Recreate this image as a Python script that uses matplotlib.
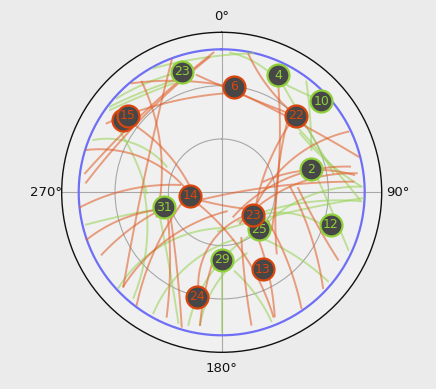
import numpy as np
import matplotlib.pyplot as plt

# nodes: label, angle (deg, clockwise from top), radius, group
node_labels = ["23", "4", "6", "10", "22", "", "15", "2", "14", "31", "25", "23", "12", "29", "13", "24"]
node_theta = [341.8, 25.7, 6.8, 47.6, 44.2, 306.3, 309.1, 75.4, 263.3, 255.7, 134.2, 125.6, 106.6, 180.0, 152.0, 193.1]
node_r = [380, 390, 319, 404, 320, 366, 363, 277, 95, 179, 158, 117, 342, 202, 262, 321]
node_group = ["g", "g", "r", "g", "r", "r", "r", "g", "r", "g", "g", "r", "g", "g", "r", "r"]

# links: start, middle and end point (x, y) of each arc
red_links = [
    (-25, 419, -225, 247, -410, 57),
    (-37, 405, -235, 227, -407, 29),
    (-270, 327, -115, 334, 35, 315),
    (45, 302, 225, 212, 410, 107),
    (80, 415, 135, 322, 215, 237),
    (205, 207, 145, 97, 100, -53),
    (195, 205, 165, 17, 165, -183),
    (170, 317, 173, 107, 150, -113),
    (380, 182, 235, 117, 85, -83),
    (397, 52, 275, 67, 125, 32),
    (-65, -23, 155, 17, 395, 32),
    (-425, -45, -285, 7, -125, 22),
    (-405, -142, -305, -83, -195, -53),
    (-360, -187, -265, -103, -165, -43),
    (-295, -282, -165, -143, 15, -57),
    (-255, -338, -205, -183, -120, -33),
    (-165, -373, -155, -193, -165, -43),
    (-120, -403, -135, -223, -155, -63),
    (-70, -293, -25, -143, 90, -63),
    (-65, -398, -55, -323, -25, -203),
    (-85, -23, 35, -143, 155, -373),
    (-75, -21, 25, -43, 105, -53),
    (35, -73, 185, 37, 385, 77),
    (55, -93, 205, 17, 405, 57),
    (229, 13, 309, -137, 349, -202),
    (-255, 197, -155, 107, -95, 17),
    (-405, 127, -245, 107, -100, 2),
    (-345, 207, -255, 242, 10, 297),
    (-240, 332, -185, 147, -195, -73),
    (-75, 352, 75, 287, 215, 232),
    (304, -287, 265, -123, 205, 17),
    (239, -347, 189, -187, 139, -87),
    (159, -372, 139, -237, 109, -137),
    (89, -397, 69, -257, 59, -137),
    (-150, 397, -225, 77, -295, -283),
]
green_links = [
    (-315, 282, -215, 332, -120, 362),
    (-335, 257, -235, 302, -105, 347),
    (-205, 372, -65, 402, 95, 417),
    (25, 419, 105, 387, 175, 327),
    (185, 327, 225, 307, 270, 287),
    (254, 332, 265, 227, 269, 127),
    (175, 337, 255, 197, 335, 57),
    (225, 197, 315, 97, 415, -23),
    (235, 177, 335, 77, 420, 17),
    (285, 47, 325, -43, 380, -173),
    (-11, -117, 235, -53, 425, -17),
    (49, -87, 235, -33, 419, -27),
    (119, -137, 259, -217, 319, -267),
    (39, -237, 109, -317, 149, -387),
    (295, -93, 205, -63, 95, -73),
    (-185, -77, -155, -237, -130, -392),
    (-235, 13, -225, -153, -265, -317),
    (-407, -97, -285, -68, -175, -48),
    (-310, -287, -185, -163, 10, -107),
    (-205, -363, -105, -223, 35, -143),
    (-100, -398, -45, -263, 95, -123),
    (135, -93, 235, -23, 415, 17),
    (-315, 197, -255, 87, -225, -3),
    (-385, 157, -265, 147, -165, 77),
    (-335, 247, -245, 287, -145, 327),
    (0, -223, 0, -323, 0, -418),
    (-65, -398, -15, -273, 75, -183),
]

edge_colors = {"g": "#8fd03a", "r": "#d8460e"}
link_colors = {"g": "#9bd35a", "r": "#e0602c"}


def arc_points(x0, y0, xm, ym, x1, y1, n=80):
    # circle through the three points
    d = 2 * (x0 * (ym - y1) + xm * (y1 - y0) + x1 * (y0 - ym))
    if abs(d) < 1e-6:
        t = np.linspace(0, 1, n)
        return x0 + (x1 - x0) * t, y0 + (y1 - y0) * t
    s0, sm, s1 = x0**2 + y0**2, xm**2 + ym**2, x1**2 + y1**2
    cx = (s0 * (ym - y1) + sm * (y1 - y0) + s1 * (y0 - ym)) / d
    cy = (s0 * (x1 - xm) + sm * (x0 - x1) + s1 * (xm - x0)) / d
    rad = np.hypot(x0 - cx, y0 - cy)
    a0 = np.arctan2(y0 - cy, x0 - cx)
    am = np.arctan2(ym - cy, xm - cx)
    a1 = np.arctan2(y1 - cy, x1 - cx)
    span = (a1 - a0) % (2 * np.pi)
    if (am - a0) % (2 * np.pi) > span:
        span = span - 2 * np.pi
    a = a0 + np.linspace(0, span, n)
    return cx + rad * np.cos(a), cy + rad * np.sin(a)


fig = plt.figure(figsize=(4.36, 3.89), dpi=100, facecolor="#ebebeb")
ax = fig.add_axes([61.7 / 436, 36.7 / 389, 320 / 436, 320 / 389], projection="polar")
ax.set_facecolor("#f0f0f0")
ax.set_theta_zero_location("N")
ax.set_theta_direction(-1)
ax.set_ylim(0, 480)
ax.set_rgrids([160, 320], labels=[])
ax.set_thetagrids([0, 90, 180, 270], labels=["0°", "90°", "180°", "270°"])
ax.tick_params(axis="x", pad=1, labelsize=9.5, colors="#111111")
ax.grid(color="#a8a8a8", linewidth=0.8)
ax.spines["polar"].set_color("#111111")
ax.spines["polar"].set_linewidth(1.0)

# plot band
band = np.linspace(0, 2 * np.pi, 400)
ax.plot(band, np.full_like(band, 429), color="#6f6ff5", lw=1.6, zorder=2)

for group, links in (("g", green_links), ("r", red_links)):
    for link in links:
        x, y = arc_points(*link)
        theta = np.unwrap(np.arctan2(x, y))
        ax.plot(theta, np.hypot(x, y), color=link_colors[group], alpha=0.58, lw=1.4, zorder=3)

for i, (lab, th, r, g) in enumerate(zip(node_labels, node_theta, node_r, node_group)):
    z = 5 + i * 0.1
    ax.scatter(np.radians(th), r, s=250, color="#474747", edgecolors=edge_colors[g],
               linewidths=1.6, zorder=z)
    ax.text(np.radians(th), r, lab, color=edge_colors[g], fontsize=9,
            ha="center", va="center", zorder=z + 0.05)

fig.savefig("out.png", dpi=100, facecolor=fig.get_facecolor())
